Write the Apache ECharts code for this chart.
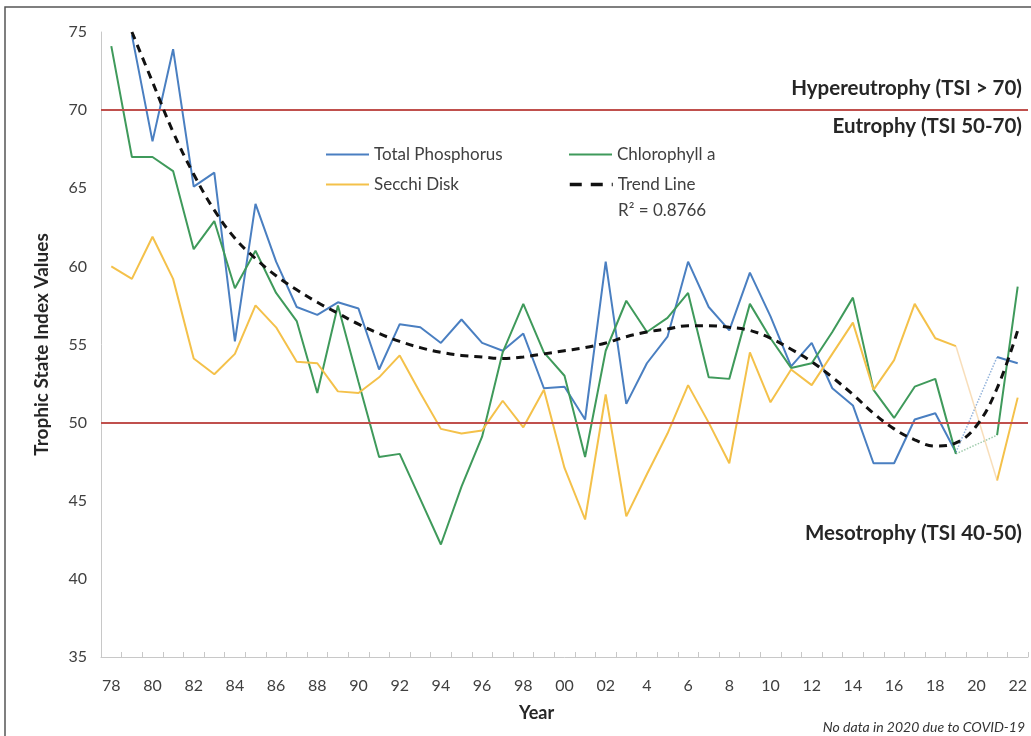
<!DOCTYPE html>
<html>
<head>
<meta charset="utf-8">
<script src="https://cdn.jsdelivr.net/npm/echarts@6/dist/echarts.min.js"></script>
<style>
html,body{margin:0;padding:0;background:#fff;}
#chart{width:1031px;height:736px;}
</style>
</head>
<body>
<div id="chart"></div>
<script>
const years = [];
for (let y = 1978; y <= 2022; y++) years.push(y);
const tickLabels = ['78','','80','','82','','84','','86','','88','','90','','92','','94','','96','','98','','00','','02','','4','','6','','8','','10','','12','','14','','16','','18','','20','','22'];

const totalPhosphorus = [null,74.8,68.0,73.9,65.1,66.0,55.2,64.0,60.3,57.4,56.9,57.7,57.3,53.4,56.3,56.1,55.1,56.6,55.1,54.6,55.7,52.2,52.3,50.2,60.3,51.2,53.8,55.5,60.3,57.4,55.9,59.6,56.8,53.6,55.1,52.2,51.1,47.4,47.4,50.2,50.6,48.1,null,54.2,53.8];
const chlorophyll = [74.1,67.0,67.0,66.1,61.1,62.9,58.6,61.0,58.3,56.5,51.9,57.5,52.6,47.8,48.0,45.1,42.2,45.9,49.1,54.5,57.6,54.5,53.0,47.8,54.6,57.8,55.8,56.7,58.3,52.9,52.8,57.6,55.4,53.5,53.8,55.8,58.0,52.1,50.3,52.3,52.8,48.0,null,49.2,58.7];
const secchi = [60.0,59.2,61.9,59.2,54.1,53.1,54.4,57.5,56.1,53.9,53.8,52.0,51.9,52.9,54.3,51.9,49.6,49.3,49.5,51.4,49.7,52.1,47.1,43.8,51.8,44.0,46.7,49.3,52.4,50.0,47.4,54.5,51.3,53.4,52.4,54.4,56.4,52.1,54.0,57.6,55.4,54.9,null,46.3,51.6];
const trend = [null,75.0,71.8,68.6,65.9,63.6,61.8,60.5,59.4,58.5,57.7,57.0,56.3,55.7,55.2,54.8,54.5,54.3,54.2,54.1,54.2,54.4,54.6,54.8,55.1,55.5,55.8,56.0,56.2,56.2,56.1,55.9,55.4,54.7,53.9,52.9,51.8,50.6,49.6,48.9,48.5,48.7,49.8,52.2,55.9];
const thresholds = [70, 50];

// faint connector across the missing 2020 value: keep only the two neighbours of a gap
function gapOf(arr){
  return arr.map((v,i)=>{
    const beforeGap = i + 1 < arr.length && arr[i+1] === null && i > 0;
    const afterGap = i - 1 >= 1 && arr[i-1] === null && arr[i-2] !== null;
    return (beforeGap || afterGap) ? v : null;
  });
}

const FONT = 'Lato';
const txt = '#404040';
const dark = '#262626';
const blue = '#4a7fc1', green = '#3f9a5b', yellow = '#f4c14a';

const chart = echarts.init(document.getElementById('chart'), null, {renderer:'canvas'});
function legendAt(name, left, top, extra){
  return Object.assign({data:[name], left:left, top:top, padding:0, itemWidth:43, itemHeight:14, itemGap:4,
    itemStyle:{opacity:0},
    textStyle:{fontFamily:FONT, fontSize:17, color:txt}, selectedMode:false}, extra || {});
}
chart.setOption({
  animation:false,
  backgroundColor:'#fff',
  grid:{left:101, right:3, top:32, bottom:79, containLabel:false},
  legend:[
    legendAt('Total Phosphorus', 325, 146),
    legendAt('Chlorophyll a', 568, 146),
    legendAt('Secchi Disk', 325, 176),
    legendAt('Trend Line', 568, 176, {lineStyle:{type:[12,9], width:3.5}})
  ],
  xAxis:{
    type:'category', data:years, boundaryGap:true,
    axisLine:{lineStyle:{color:'#c8c8c8', width:1}},
    axisTick:{show:true, inside:true, length:5, interval:0, lineStyle:{color:'#c8c8c8'}},
    axisLabel:{interval:0, margin:21, fontFamily:FONT, fontSize:16, color:txt,
      formatter:(v,i)=>tickLabels[i]}
  },
  yAxis:{
    type:'value', min:35, max:75, interval:5,
    name:'Trophic State Index Values', nameLocation:'middle', nameGap:50, nameRotate:90,
    nameTextStyle:{fontFamily:FONT, fontSize:19, fontWeight:'bold', color:dark},
    axisLine:{show:true, lineStyle:{color:'#c8c8c8'}},
    axisTick:{show:false},
    splitLine:{show:false},
    axisLabel:{margin:14, fontFamily:FONT, fontSize:16, color:txt}
  },
  series:[
    {name:'Total Phosphorus', type:'line', data:totalPhosphorus, symbol:'none', connectNulls:false,
     lineStyle:{color:blue, width:2}, itemStyle:{color:blue},
     markLine:{silent:true, symbol:'none', label:{show:false},
       lineStyle:{color:'#c0504d', width:2, type:'solid'},
       data:thresholds.map(t=>({yAxis:t}))}},
    {name:'Chlorophyll a', type:'line', data:chlorophyll, symbol:'none',
     lineStyle:{color:green, width:2}, itemStyle:{color:green}},
    {name:'Secchi Disk', type:'line', data:secchi, symbol:'none',
     lineStyle:{color:yellow, width:2}, itemStyle:{color:yellow}},
    {name:'Trend Line', type:'line', data:trend, symbol:'none', smooth:0.4,
     lineStyle:{color:'#111', width:3, type:[8,6]}, itemStyle:{color:'#111'}, z:5},
    {name:'tpGap', type:'line', data:gapOf(totalPhosphorus), connectNulls:true, symbol:'none',
     lineStyle:{color:blue, width:1.5, type:'dotted', opacity:0.6}},
    {name:'chGap', type:'line', data:gapOf(chlorophyll), connectNulls:true, symbol:'none',
     lineStyle:{color:green, width:1.5, type:'dotted', opacity:0.5}},
    {name:'sdGap', type:'line', data:gapOf(secchi), connectNulls:true, symbol:'none',
     lineStyle:{color:'#f3c88c', width:1.5, opacity:0.6}}
  ],
  graphic:[
    {type:'rect', shape:{x:5, y:7, width:1100, height:800}, style:{fill:'none', stroke:'#555', lineWidth:1.5}, silent:true},
    {type:'text', left:618, top:202, style:{text:'R² = 0.8766', font:'17px '+FONT, fill:txt}},
    {type:'text', right:9, top:78, style:{text:'Hypereutrophy (TSI > 70)', font:'bold 20.5px '+FONT, fill:dark}},
    {type:'text', right:9, top:116, style:{text:'Eutrophy (TSI 50-70)', font:'bold 20.5px '+FONT, fill:dark}},
    {type:'text', right:9, top:523, style:{text:'Mesotrophy (TSI 40-50)', font:'bold 20.5px '+FONT, fill:dark}},
    {type:'text', left:519, top:704, style:{text:'Year', font:'bold 18px '+FONT, fill:dark}},
    {type:'text', right:6, top:720, style:{text:'No data in 2020 due to COVID-19', font:'italic 14px '+FONT, fill:'#333'}}
  ]
});
</script>
</body>
</html>
